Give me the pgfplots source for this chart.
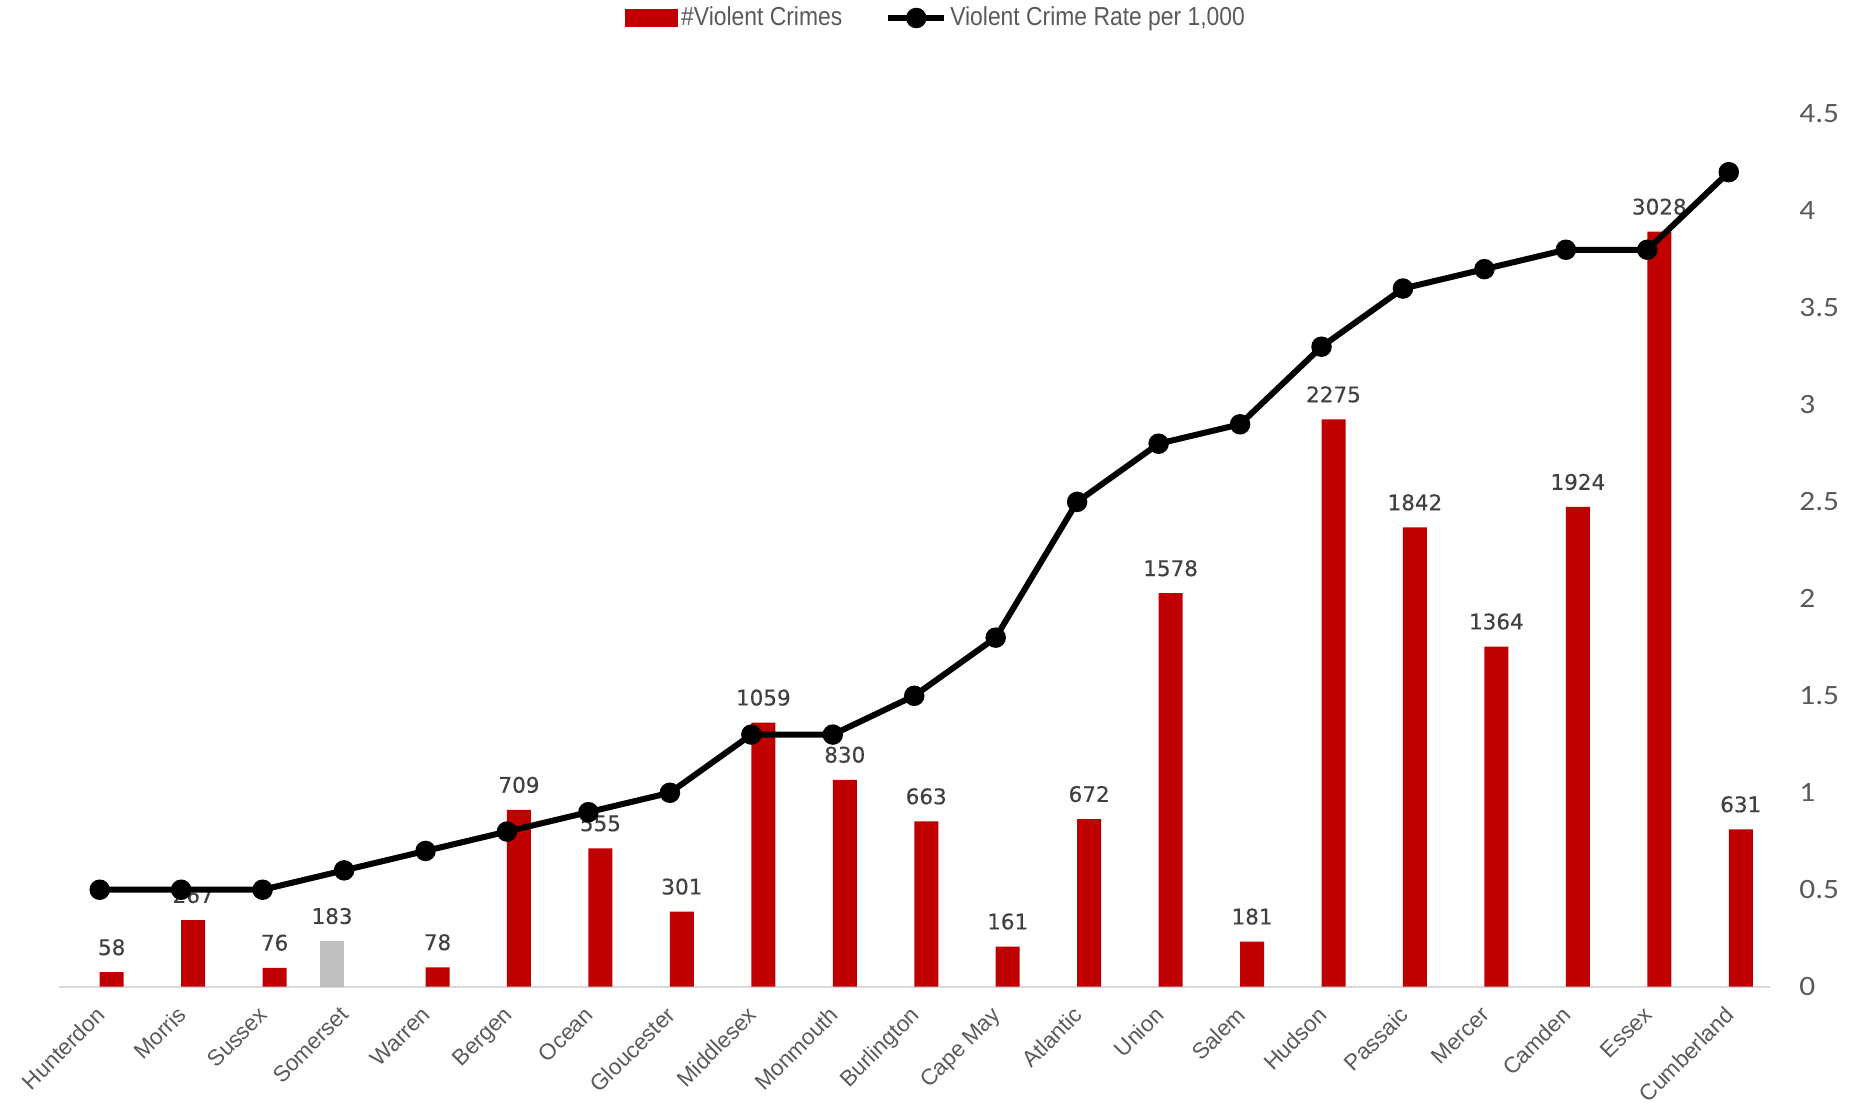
\documentclass[border=0pt]{standalone}
\usepackage{fontspec}
\setmainfont{Liberation Sans}
\usepackage{pgfplots}
\pgfplotsset{compat=1.18}
\newfontfamily\legendfont[FakeStretch=0.88]{Liberation Sans}
\newfontfamily\labelfont[FakeBold=0.4]{DejaVu Sans}
\newfontfamily\axisfont[FakeStretch=1.12]{Carlito}
\definecolor{barred}{HTML}{C00000}
\definecolor{bargray}{HTML}{BFBFBF}
\definecolor{labelgray}{HTML}{404040}
\definecolor{tickgray}{HTML}{595959}
\definecolor{axisgray}{HTML}{D9D9D9}

% 1 px of the reference = 0.5pt
\pgfplotsset{
  base/.style={width=855.25pt, height=436.35pt, scale only axis,
    xmin=-0.5, xmax=20.5, at={(0pt,0pt)}, anchor=south west, clip=false},
}

\begin{document}
\begin{tikzpicture}
\path[use as bounding box] (-29.5pt,-59.15pt) rectangle (895pt,493.35pt);

% bars: number of violent crimes (hidden left axis, 0..3500)
\begin{axis}[base, ymin=0, ymax=3500,
  ybar, bar width=12pt,
  axis x line*=bottom, axis y line=none, ytick=\empty,
  x axis line style={draw=axisgray, line width=1pt},
  xtick={0,...,20},
  xticklabels={Hunterdon,Morris,Sussex,Somerset,Warren,Bergen,Ocean,Gloucester,Middlesex,Monmouth,Burlington,Cape May,Atlantic,Union,Salem,Hudson,Passaic,Mercer,Camden,Essex,Cumberland},
  major tick length=0pt,
  xticklabel style={font=\fontsize{11.25}{13}\selectfont, color=tickgray,
    inner sep=0pt, xshift=-2.5pt, yshift=-9pt, rotate=45, anchor=north east},
  /pgf/number format/1000 sep={},
  /pgf/number format/assume math mode=true,
  nodes near coords,
  every node near coord/.append style={font=\labelfont\fontsize{10.75}{12}\selectfont,
    color=labelgray, inner sep=0pt, anchor=south, yshift=8.25pt},
]
\addplot[fill=bargray, draw=none, bar shift=-6pt] coordinates {(3,183)};
\addplot[fill=barred, draw=none, bar shift=6pt] coordinates {
  (0,58) (1,267) (2,76) (4,78) (5,709) (6,555) (7,301) (8,1059) (9,830) (10,663)
  (11,161) (12,672) (13,1578) (14,181) (15,2275) (16,1842) (17,1364) (18,1924)
  (19,3028) (20,631)};
\end{axis}

% line: rate per 1,000 (right axis)
\begin{axis}[base, ymin=0, ymax=4.5,
  axis y line*=right, axis x line=none, xtick=\empty,
  y axis line style={draw=none},
  ytick={0,0.5,1,1.5,2,2.5,3,3.5,4,4.5},
  major tick length=0pt,
  /pgf/number format/assume math mode=true,
  yticklabel style={font=\axisfont\fontsize{14}{16}\selectfont, color=tickgray,
    anchor=west, inner sep=0pt, xshift=14.75pt},
  legend columns=2,
  legend style={at={(0.3309,1.110)}, anchor=west, draw=none, fill=none,
    inner sep=0pt, font=\legendfont\fontsize{13}{15}\selectfont, text=tickgray,
    nodes={inner sep=1.5pt},
    /tikz/every even column/.append style={column sep=20pt}},
]
\addlegendimage{legend image code/.code={\fill[barred] (0pt,-4.25pt) rectangle (26pt,4.25pt);}}
\addlegendentry{\#Violent Crimes}
\addplot[black, line width=3pt, mark=*, mark size=3.6pt,
  mark options={draw=none, fill=black},
  legend image code/.code={\draw[black, line width=3pt] (0pt,0pt) -- (28pt,0pt);
    \fill[black] (14pt,0pt) circle (3.6pt);}]
  coordinates {
  (0,0.5) (1,0.5) (2,0.5) (3,0.6) (4,0.7) (5,0.8) (6,0.9) (7,1.0) (8,1.3) (9,1.3)
  (10,1.5) (11,1.8) (12,2.5) (13,2.8) (14,2.9) (15,3.3) (16,3.6) (17,3.7) (18,3.8)
  (19,3.8) (20,4.2)};
\addlegendentry{Violent Crime Rate per 1,000}
\end{axis}
\end{tikzpicture}
\end{document}
